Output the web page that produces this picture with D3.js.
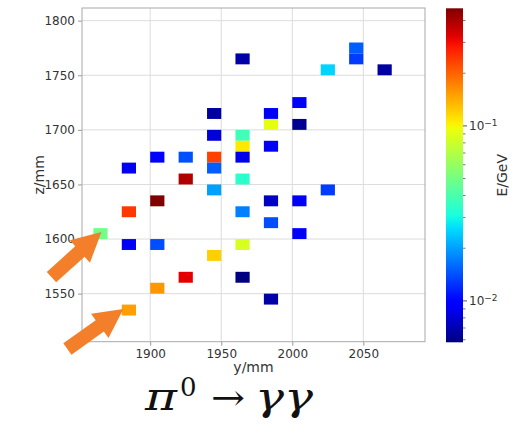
<!DOCTYPE html>
<html>
<head>
<meta charset="utf-8">
<script src="https://cdn.jsdelivr.net/npm/d3@7"></script>
<style>
  body { margin: 0; background: #fff; }
  svg { display: block; font-family: "DejaVu Sans", sans-serif; }
</style>
</head>
<body>
<svg id="chart" width="513" height="427"></svg>
<script>
// Calorimeter cell hits: cell centre in y and z (mm) and deposited energy (GeV)
const cellY = [1965, 2045, 2045, 2025, 2065, 1945, 2005, 1985, 1985, 2005,
               1945, 1965, 1965, 1985, 1905, 1925, 1945, 1965, 1885, 1945,
               1925, 1965, 1945, 2025, 1905, 1985, 2005, 1885, 1965, 1985,
               1865, 2005, 1885, 1905, 1965, 1945, 1925, 1965, 1905, 1985,
               1885];
const cellZ = [1765, 1775, 1765, 1755, 1755, 1715, 1725, 1715, 1705, 1705,
               1695, 1695, 1685, 1685, 1675, 1675, 1675, 1675, 1665, 1665,
               1655, 1655, 1645, 1645, 1635, 1635, 1635, 1625, 1625, 1615,
               1605, 1605, 1595, 1595, 1595, 1585, 1565, 1565, 1555, 1545,
               1535];
const energy = [0.0068, 0.0150, 0.0130, 0.0250, 0.0066, 0.0066, 0.0092, 0.0092, 0.0920, 0.0062,
                0.0081, 0.0380, 0.1070, 0.0092, 0.0095, 0.0142, 0.2330, 0.0088, 0.0090, 0.0150,
                0.3900, 0.0340, 0.0200, 0.0130, 0.4700, 0.0076, 0.0092, 0.2450, 0.0174, 0.0140,
                0.0490, 0.0092, 0.0092, 0.0140, 0.0850, 0.1200, 0.3200, 0.0058, 0.1570, 0.0068,
                0.1500];
const cellSize = 10; // mm

// Axis ticks
const yTicks = [1900, 1950, 2000, 2050];
const zTicks = [1550, 1600, 1650, 1700, 1750, 1800];
const cbarMajor = [0.01, 0.1];
const cbarMajorExp = ["\u22122", "\u22121"];

// The two photon showers from the pi0 decay
const photonCellY = [1865, 1885];
const photonCellZ = [1605, 1535];

// matplotlib "jet" colour map (segment data)
const jetR = [[0, 0], [0.35, 0], [0.66, 1], [0.89, 1], [1, 0.5]];
const jetG = [[0, 0], [0.125, 0], [0.375, 1], [0.64, 1], [0.91, 0], [1, 0]];
const jetB = [[0, 0.5], [0.11, 1], [0.34, 1], [0.65, 0], [1, 0]];
function seg(pts, t) {
  t = Math.max(0, Math.min(1, t));
  for (let i = 1; i < pts.length; i++) {
    if (t <= pts[i][0]) {
      const [t0, v0] = pts[i - 1], [t1, v1] = pts[i];
      return v0 + (v1 - v0) * (t - t0) / (t1 - t0);
    }
  }
  return pts[pts.length - 1][1];
}
function jet(t) {
  return d3.rgb(255 * seg(jetR, t), 255 * seg(jetG, t), 255 * seg(jetB, t)).formatHex();
}

const svg = d3.select("#chart");
svg.append("rect").attr("width", 513).attr("height", 427).attr("fill", "#fff");

const plot = { left: 82, right: 425, top: 8, bottom: 341.7 };
const x = d3.scaleLinear().domain([1852, 2093.4]).range([plot.left, plot.right]);
const z = d3.scaleLinear().domain([1506, 1811.6]).range([plot.bottom, plot.top]);

const eExtent = d3.extent(energy);
const norm = d3.scaleLog().domain(eExtent).range([0, 1]);

// grid
const grid = svg.append("g");
grid.selectAll("line.v").data(yTicks).join("line")
  .attr("x1", d => x(d)).attr("x2", d => x(d))
  .attr("y1", plot.top).attr("y2", plot.bottom)
  .attr("stroke", "#dcdcdc").attr("stroke-width", 1);
grid.selectAll("line.h").data(zTicks).join("line")
  .attr("y1", d => z(d)).attr("y2", d => z(d))
  .attr("x1", plot.left).attr("x2", plot.right)
  .attr("stroke", "#dcdcdc").attr("stroke-width", 1);

// cells
svg.append("g").selectAll("rect").data(energy).join("rect")
  .attr("x", (d, i) => x(cellY[i] - cellSize / 2))
  .attr("y", (d, i) => z(cellZ[i] + cellSize / 2))
  .attr("width", (d, i) => x(cellY[i] + cellSize / 2) - x(cellY[i] - cellSize / 2))
  .attr("height", (d, i) => z(cellZ[i] - cellSize / 2) - z(cellZ[i] + cellSize / 2))
  .attr("fill", d => jet(norm(d)));

// axes
const xAxis = svg.append("g").attr("transform", `translate(0,${plot.bottom})`)
  .call(d3.axisBottom(x).tickValues(yTicks).tickSize(4).tickPadding(4).tickFormat(d3.format("d")));
const zAxis = svg.append("g").attr("transform", `translate(${plot.left},0)`)
  .call(d3.axisLeft(z).tickValues(zTicks).tickSize(4).tickPadding(3).tickFormat(d3.format("d")));
[xAxis, zAxis].forEach(a => {
  a.attr("font-family", null).attr("font-size", null);
  a.select(".domain").remove();
  a.selectAll(".tick line").attr("stroke", "#999");
  a.selectAll(".tick text").attr("fill", "#333").style("font-size", "12px");
});

// frame
svg.append("rect")
  .attr("x", plot.left).attr("y", plot.top)
  .attr("width", plot.right - plot.left).attr("height", plot.bottom - plot.top)
  .attr("fill", "none").attr("stroke", "#a8a8a8").attr("stroke-width", 1);

svg.append("text").attr("x", (plot.left + plot.right) / 2).attr("y", 372)
  .attr("text-anchor", "middle").style("font-size", "14px").attr("fill", "#333").text("y/mm");
svg.append("text").attr("transform", `translate(44,${(plot.top + plot.bottom) / 2}) rotate(-90)`)
  .attr("text-anchor", "middle").style("font-size", "14px").attr("fill", "#333").text("z/mm");

// colour bar
const cb = { left: 446, width: 17, top: 8.3, bottom: 342.3 };
const cbScale = d3.scaleLog().domain(eExtent).range([cb.bottom, cb.top]);
const defs = svg.append("defs");
const grad = defs.append("linearGradient").attr("id", "jetGrad")
  .attr("x1", 0).attr("y1", 1).attr("x2", 0).attr("y2", 0);
d3.range(0, 1.0001, 0.02).forEach(t => {
  grad.append("stop").attr("offset", t).attr("stop-color", jet(t));
});
svg.append("rect").attr("x", cb.left).attr("y", cb.top)
  .attr("width", cb.width).attr("height", cb.bottom - cb.top)
  .attr("fill", "url(#jetGrad)");

const minor = cbScale.ticks().filter(v => !cbarMajor.some(m => Math.abs(m - v) < 1e-9));
svg.append("g").selectAll("line").data(minor).join("line")
  .attr("x1", cb.left + cb.width).attr("x2", cb.left + cb.width + 2.5)
  .attr("y1", d => cbScale(d)).attr("y2", d => cbScale(d))
  .attr("stroke", "#555").attr("stroke-width", 0.8);
const major = svg.append("g").selectAll("g").data(cbarMajor).join("g")
  .attr("transform", d => `translate(${cb.left + cb.width},${cbScale(d)})`);
major.append("line").attr("x2", 4).attr("stroke", "#555");
const lab = major.append("text").attr("x", 6).attr("dy", "0.35em")
  .style("font-size", "12px").attr("fill", "#333");
lab.append("tspan").text("10");
lab.append("tspan").attr("dy", "-0.45em").style("font-size", "9px").text((d, i) => cbarMajorExp[i]);

svg.append("text").attr("transform", `translate(507,${(cb.top + cb.bottom) / 2}) rotate(-90)`)
  .attr("text-anchor", "middle").style("font-size", "14px").attr("fill", "#333").text("E/GeV");

// arrows pointing to the two photon clusters
function arrowPath(tx, ty, hx, hy) {
  const dx = hx - tx, dy = hy - ty, len = Math.hypot(dx, dy);
  const ux = dx / len, uy = dy / len, px = -uy, py = ux;
  const shaft = 7, head = 15, headLen = 29;
  const bx = hx - ux * headLen, by = hy - uy * headLen;
  const p = [
    [tx + px * shaft, ty + py * shaft],
    [bx + px * shaft, by + py * shaft],
    [bx + px * head, by + py * head],
    [hx, hy],
    [bx - px * head, by - py * head],
    [bx - px * shaft, by - py * shaft],
    [tx - px * shaft, ty - py * shaft]
  ];
  return "M" + p.map(q => q.join(",")).join("L") + "Z";
}
const tailOffset = [[-50, 45], [-56, 40]];
const tipOffset = [[1, -1.5], [-5.5, -1]];
svg.append("g").selectAll("path").data(photonCellY).join("path")
  .attr("d", (d, i) => {
    const hx = x(d) + tipOffset[i][0], hy = z(photonCellZ[i]) + tipOffset[i][1];
    return arrowPath(hx + tailOffset[i][0], hy + tailOffset[i][1], hx, hy);
  })
  .attr("fill", "#f47f2a");

// decay label, one piece per symbol
const titleFont = "'DejaVu Serif', 'Liberation Serif', serif";
const titleParts = [
  { t: "\u03c0", x: 145, y: 410, size: 40, italic: true, len: 32 },
  { t: "0", x: 180, y: 396, size: 26, italic: false, len: 0 },
  { t: "\u2192", x: 211, y: 410, size: 36, italic: false, len: 34 },
  { t: "\u03b3\u03b3", x: 255, y: 410, size: 40, italic: true, len: 58 }
];
svg.append("g").selectAll("text").data(titleParts).join("text")
  .attr("x", d => d.x).attr("y", d => d.y)
  .attr("textLength", d => d.len || null)
  .attr("lengthAdjust", d => d.len ? "spacingAndGlyphs" : null)
  .style("font-family", titleFont)
  .style("font-size", d => d.size + "px")
  .style("font-style", d => d.italic ? "italic" : "normal")
  .attr("fill", "#111")
  .text(d => d.t);
</script>
</body>
</html>
